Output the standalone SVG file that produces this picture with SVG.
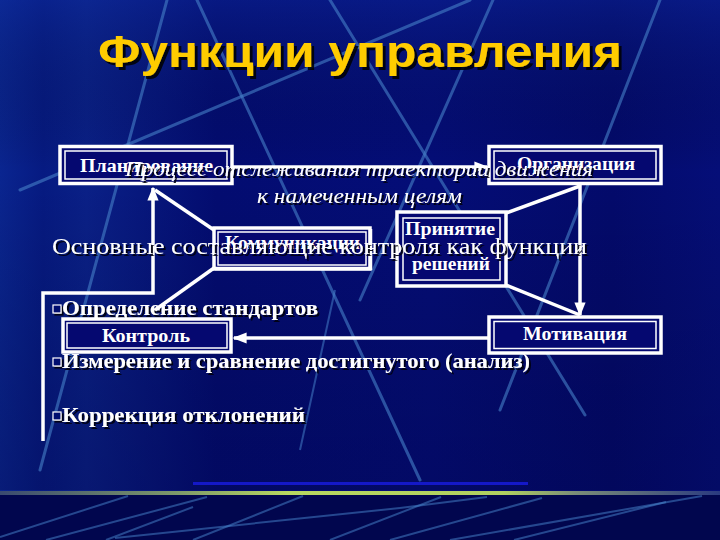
<svg xmlns="http://www.w3.org/2000/svg" width="720" height="540" viewBox="0 0 720 540">
  <defs>
    <linearGradient id="bg" x1="0" y1="0" x2="1" y2="0">
      <stop offset="0" stop-color="#0a2590"/>
      <stop offset="0.06" stop-color="#061a82"/>
      <stop offset="0.12" stop-color="#0a2088"/>
      <stop offset="0.3" stop-color="#030c72"/>
      <stop offset="0.6" stop-color="#040d78"/>
      <stop offset="0.85" stop-color="#030a6c"/>
      <stop offset="1" stop-color="#050e78"/>
    </linearGradient>
    <linearGradient id="vshade" x1="0" y1="0" x2="0" y2="1">
      <stop offset="0" stop-color="#1030a0" stop-opacity="0.35"/>
      <stop offset="0.35" stop-color="#000000" stop-opacity="0"/>
      <stop offset="1" stop-color="#000030" stop-opacity="0.25"/>
    </linearGradient>
    <linearGradient id="stripe" x1="0" y1="0" x2="1" y2="0">
      <stop offset="0" stop-color="#3a4a70"/>
      <stop offset="0.25" stop-color="#7f9a6a"/>
      <stop offset="0.4" stop-color="#b8d860"/>
      <stop offset="0.7" stop-color="#b0d060"/>
      <stop offset="0.8" stop-color="#7a8c78"/>
      <stop offset="1" stop-color="#2a3a80"/>
    </linearGradient>
    <filter id="sh" x="-5%" y="-20%" width="110%" height="140%">
      <feDropShadow dx="2" dy="2" stdDeviation="0.4" flood-color="#000010" flood-opacity="0.9"/>
    </filter>
    <filter id="tsh" x="-5%" y="-20%" width="110%" height="150%">
      <feDropShadow dx="3" dy="3" stdDeviation="0.5" flood-color="#000000" flood-opacity="0.85"/>
    </filter>
    <marker id="arr" viewBox="0 0 10 10" refX="9" refY="5" markerWidth="4" markerHeight="4" orient="auto" markerUnits="strokeWidth">
      <path d="M0,1 L10,5 L0,9 Z" fill="#ffffff"/>
    </marker>
    <style>
      .streak { stroke: #4680c8; stroke-width: 3; stroke-opacity: 0.6; fill: none; stroke-linecap: round; }
      .streak2 { stroke: #4a88d0; stroke-width: 2; stroke-opacity: 0.5; fill: none; }
      .outer { fill: #050870; stroke: #ffffff; stroke-width: 3.5; }
      .inner { fill: none; stroke: #ffffff; stroke-width: 1.5; }
      .lbl { font-family: "Liberation Serif", "Times New Roman", serif; font-weight: bold; font-size: 18px; fill: #ffffff; }
      .conn { stroke: #ffffff; stroke-width: 3.5; fill: none; }
      .bul { font-family: "Liberation Serif", "Times New Roman", serif; font-weight: bold; font-size: 22px; fill: #ffffff; }
      .ital { font-family: "Liberation Serif", "Times New Roman", serif; font-style: italic; font-size: 21px; fill: #ffffff; }
      .sq { fill: #050870; stroke: #ffffff; stroke-width: 1.2; }
    </style>
  </defs>

  <!-- background -->
  <g id="background">
    <rect x="0" y="0" width="720" height="540" fill="url(#bg)"/>
    <rect x="0" y="0" width="720" height="490" fill="url(#vshade)"/>
    <line class="streak" x1="167" y1="0" x2="40" y2="470"/>
    <line class="streak" x1="197" y1="0" x2="420" y2="480"/>
    <line class="streak" x1="20" y1="190" x2="470" y2="0"/>
    <line class="streak" x1="330" y1="0" x2="585" y2="415"/>
    <line class="streak" x1="493" y1="0" x2="360" y2="300"/>
    <line class="streak" x1="660" y1="0" x2="500" y2="410"/>
    <line class="streak2" x1="335" y1="290" x2="300" y2="450"/>
    <rect x="0" y="495" width="720" height="45" fill="#01064e"/>
    <rect x="193" y="482" width="335" height="3" fill="#1418c8"/>
    <rect x="0" y="491" width="720" height="4" fill="url(#stripe)"/>
    <line class="streak2" x1="0" y1="537" x2="128" y2="496"/>
    <line class="streak2" x1="46" y1="540" x2="207" y2="497"/>
    <line class="streak2" x1="106" y1="540" x2="193" y2="507"/>
    <line class="streak2" x1="115" y1="538" x2="400" y2="508"/>
    <line class="streak2" x1="400" y1="508" x2="487" y2="497"/>
    <line class="streak2" x1="193" y1="540" x2="303" y2="496"/>
    <line class="streak2" x1="330" y1="540" x2="441" y2="497"/>
    <line class="streak2" x1="390" y1="540" x2="542" y2="498"/>
    <line class="streak2" x1="450" y1="540" x2="702" y2="496"/>
    <line class="streak2" x1="514" y1="540" x2="666" y2="502"/>
  </g>

  <!-- title -->
  <text id="title" x="98" y="67" textLength="524" lengthAdjust="spacingAndGlyphs" font-family="'Liberation Sans', Arial, sans-serif" font-weight="bold" font-size="45" fill="#ffcc00" filter="url(#tsh)">Функции управления</text>

  <!-- bullet list -->
  <g id="bullets" filter="url(#sh)">
    <rect class="sq" x="53" y="305" width="8" height="8"/>
    <text class="bul" x="62" y="315" textLength="256" lengthAdjust="spacingAndGlyphs">Определение стандартов</text>
    <rect class="sq" x="53" y="358" width="8" height="8"/>
    <text class="bul" x="62" y="368" textLength="468" lengthAdjust="spacingAndGlyphs">Измерение и сравнение достигнутого (анализ)</text>
    <rect class="sq" x="53" y="412" width="8" height="8"/>
    <text class="bul" x="62" y="422" textLength="243" lengthAdjust="spacingAndGlyphs">Коррекция отклонений</text>
  </g>

  <!-- connectors -->
  <g id="connectors">
    <line class="conn" x1="233" y1="167" x2="487" y2="167" marker-end="url(#arr)"/>
    <line class="conn" x1="580" y1="184" x2="580" y2="315" marker-end="url(#arr)"/>
    <line class="conn" x1="488" y1="338" x2="234" y2="338" marker-end="url(#arr)"/>
    <polyline class="conn" points="43,441 43,293 153,293 153,188" marker-end="url(#arr)"/>
    <line class="conn" x1="155" y1="190" x2="214" y2="230"/>
    <line class="conn" x1="214" y1="268" x2="155" y2="310"/>
    <line class="conn" x1="580" y1="186" x2="506" y2="213"/>
    <line class="conn" x1="506" y1="285" x2="580" y2="315"/>
  </g>

  <!-- nodes -->
  <g id="node-planning">
    <rect class="outer" x="60" y="146.5" width="172" height="37"/>
    <rect class="inner" x="65" y="151" width="162" height="28"/>
    <text class="lbl" x="80" y="172" textLength="133" lengthAdjust="spacingAndGlyphs">Планирование</text>
  </g>
  <g id="node-organization">
    <rect class="outer" x="489" y="146.5" width="172" height="37"/>
    <rect class="inner" x="494" y="151" width="162" height="28"/>
    <text class="lbl" x="517" y="170" textLength="118" lengthAdjust="spacingAndGlyphs">Организация</text>
  </g>
  <g id="node-communications">
    <rect class="outer" x="214" y="228" width="156" height="41" stroke-width="2"/>
    <rect class="inner" x="218" y="232" width="148" height="33" stroke-width="1.2"/>
    <line class="conn" x1="215" y1="268.5" x2="371" y2="268.5" stroke-width="3"/>
    <line class="conn" x1="370.5" y1="229" x2="370.5" y2="270" stroke-width="3"/>
    <text class="lbl" x="225" y="249" textLength="135" lengthAdjust="spacingAndGlyphs">Коммуникации</text>
  </g>
  <g id="node-decision">
    <rect class="outer" x="397" y="212" width="109" height="74" stroke-width="4.5"/>
    <rect class="inner" x="403" y="218" width="97" height="62" stroke-width="1.5"/>
    <text class="lbl" x="405" y="235" textLength="90" lengthAdjust="spacingAndGlyphs">Принятие</text>
    <text class="lbl" x="412" y="270" textLength="78" lengthAdjust="spacingAndGlyphs">решений</text>
  </g>
  <g id="node-control">
    <rect class="outer" x="63" y="319" width="168" height="33"/>
    <rect class="inner" x="67" y="323" width="160" height="25"/>
    <text class="lbl" x="102" y="342" textLength="88" lengthAdjust="spacingAndGlyphs">Контроль</text>
  </g>
  <g id="node-motivation">
    <rect class="outer" x="489" y="317" width="172" height="36"/>
    <rect class="inner" x="494" y="321.5" width="162" height="27"/>
    <text class="lbl" x="523" y="340" textLength="104" lengthAdjust="spacingAndGlyphs">Мотивация</text>
  </g>

  <!-- overlay texts -->
  <g id="overlay-texts" filter="url(#sh)">
    <text class="ital" x="125" y="176" textLength="468" lengthAdjust="spacingAndGlyphs">Процесс отслеживания траектории движения</text>
    <text class="ital" x="257" y="203" textLength="205" lengthAdjust="spacingAndGlyphs">к намеченным целям</text>
    <text x="52" y="254" textLength="535" lengthAdjust="spacingAndGlyphs" font-family="'Liberation Serif', 'Times New Roman', serif" font-size="24" fill="#ffffff">Основные составляющие контроля как функции</text>
  </g>
</svg>
